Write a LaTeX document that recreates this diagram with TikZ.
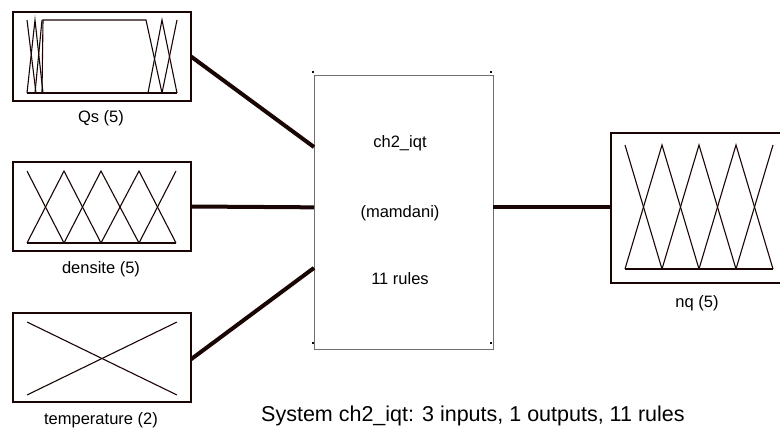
\documentclass[tikz,border=0pt]{standalone}
\usepackage{fontspec}
\setmainfont{Liberation Sans}
\usetikzlibrary{calc}
\definecolor{ink}{HTML}{1A0505}
\definecolor{frame}{HTML}{707070}
\tikzset{
  mfbox/.style={draw=ink, line width=2.6pt, minimum width=178pt, minimum height=89pt, anchor=north west, inner sep=0pt, outer sep=0pt},
  sysbox/.style={draw=frame, line width=0.8pt, anchor=north west, minimum width=179pt, minimum height=274pt, inner sep=0pt, outer sep=0pt},
  mf/.style={draw=ink, line width=1.1pt, line join=miter},
  wire/.style={draw=ink, line width=4pt},
  lbl/.style={font=\fontsize{16.5}{19}\selectfont, anchor=base, inner sep=0pt},
  title/.style={font=\fontsize{21.5}{25}\selectfont, anchor=base west, inner sep=0pt},
  dot/.style={fill=ink, minimum size=2.2pt, inner sep=0pt, draw=none}
}
\begin{document}
\begin{tikzpicture}[x=1pt,y=-1pt]
\useasboundingbox (0,0) rectangle (780,428);
% input boxes
\node[mfbox] (qs) at (13,12) {};
\node[mfbox] (dens) at (13,162) {};
\node[mfbox] (temp) at (13,313) {};
% output box (right edge beyond picture)
\node[mfbox, minimum width=180pt, minimum height=150pt] (nq) at (611,133) {};
% system box
\node[sysbox] (sys) at (314,75) {};
\node[dot] (d1) at (313,72) {};
\node[dot] (d2) at (491,72) {};
\node[dot] (d3) at (313,343) {};
\node[dot] (d4) at (491,343) {};
% labels
\node[lbl] (lqs) at (101,123) {Qs (5)};
\node[lbl] (ldens) at (101,273) {densite (5)};
\node[lbl] (ltemp) at (101,424) {temperature (2)};
\node[lbl] (lnq) at (697,307) {nq (5)};
\node[lbl] (t1) at (400,147) {ch2\_iqt};
\node[lbl] (t2) at (400,217) {(mamdani)};
\node[lbl] (t3) at (400,284) {11 rules};
\node[title] (ttl) at (261,421) {System ch2\_iqt: 3 inputs, 1 outputs, 11 rules};
% connectors
\coordinate (s1) at ($(sys.north west)!0.263!(sys.south west)$);
\coordinate (s2) at ($(sys.north west)!0.483!(sys.south west)$);
\coordinate (s3) at ($(sys.north west)!0.704!(sys.south west)$);
\coordinate (s4) at ($(sys.north east)!0.483!(sys.south east)$);
\draw[wire] (qs.east) -- (s1);
\draw[wire] (dens.east) -- (s2);
\draw[wire] ($(temp.north east)!0.52!(temp.south east)$) -- (s3);
\draw[wire] (s4) -- (nq.west |- s4);
% Qs membership functions
\draw[mf] (27,93) -- (177,93);
\draw[mf] (27,20) -- (36,93);
\draw[mf] (27,93) -- (35,20) -- (43,93);
\draw[mf] (35,93) -- (42,20);
\draw[mf] (42,93) -- (43,20) -- (146,20) -- (162,93);
\draw[mf] (148,93) -- (162,20) -- (177,93);
\draw[mf] (162,93) -- (177,20);
% densite membership functions
\draw[mf] (27,243) -- (176,243);
\draw[mf] (27,171) -- (64,243);
\draw[mf] (27,243) -- (64,171) -- (101,243);
\draw[mf] (64,243) -- (101,171) -- (139,243);
\draw[mf] (101,243) -- (139,171) -- (176,243);
\draw[mf] (139,243) -- (176,171);
% temperature membership functions
\draw[mf] (27,322) -- (177,395);
\draw[mf] (27,395) -- (177,322);
% nq membership functions
\draw[mf] (625,269) -- (773,269);
\draw[mf] (625,145) -- (662,269);
\draw[mf] (625,269) -- (662,145) -- (699,269);
\draw[mf] (662,269) -- (699,145) -- (736,269);
\draw[mf] (699,269) -- (736,145) -- (773,269);
\draw[mf] (736,269) -- (773,145);
\end{tikzpicture}
\end{document}
